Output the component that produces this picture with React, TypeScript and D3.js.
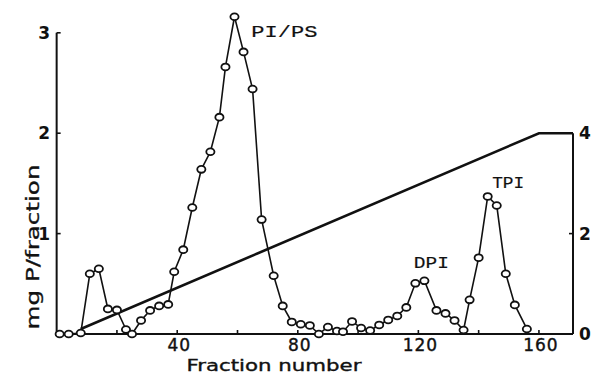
import React from 'react';
import * as d3 from 'd3';

const fractions = [1, 4, 8, 11, 14, 17, 20, 23, 25, 28, 31, 34, 37, 39, 42, 45, 48, 51, 54, 56, 59, 62, 65, 68, 72, 75, 78, 81, 84, 87, 90, 93, 95, 98, 101, 104, 107, 110, 113, 116, 119, 122, 126, 129, 132, 135, 137, 140, 143, 146, 149, 152, 156];
const mgP = [0, 0, 0.01, 0.6, 0.65, 0.25, 0.24, 0.045, 0, 0.135, 0.235, 0.28, 0.295, 0.62, 0.84, 1.26, 1.64, 1.815, 2.16, 2.66, 3.16, 2.81, 2.44, 1.14, 0.58, 0.28, 0.12, 0.097, 0.085, 0, 0.07, 0.03, 0.023, 0.125, 0.06, 0.035, 0.09, 0.14, 0.18, 0.265, 0.505, 0.53, 0.235, 0.205, 0.135, 0.04, 0.34, 0.76, 1.37, 1.28, 0.6, 0.29, 0.05];

const gradientFractions = [8, 160, 171.3];
const gradientValues = [0.1, 4, 4];

const leftTicks = [1, 2, 3];
const rightTicks = [0, 2, 4];
const xTicks = [20, 40, 60, 80, 100, 120, 140, 160];
const xTickLabels = [40, 80, 120, 160];

const peakLabels = [
  { text: 'PI/PS', f: 64.6, v: 2.96, len: 66 },
  { text: 'DPI', f: 118.5, v: 0.66, len: 35 },
  { text: 'TPI', f: 144.5, v: 1.45, len: 32 },
];

export default function App() {
  const W = 592, H = 375;
  const x = d3.scaleLinear().domain([0, 171.3]).range([56.65, 573]);
  const y = d3.scaleLinear().domain([0, 3]).range([334, 32.8]);
  const yR = d3.scaleLinear().domain([0, 4]).range([y(0), y(2)]);

  const line = d3.line<number>().x((_, i) => x(fractions[i])).y((d) => y(d));
  const gLine = d3.line<number>().x((_, i) => x(gradientFractions[i])).y((d) => yR(d));

  const ink = '#111';
  const font = '"DejaVu Sans", sans-serif';
  const mono = '"Liberation Mono", "DejaVu Sans Mono", monospace';

  return (
    <svg width={W} height={H} viewBox={`0 0 ${W} ${H}`} style={{ position: 'absolute', left: 0, top: 0, background: '#fff' }}>
      <rect width={W} height={H} fill="#fff" />
      {/* gradient line */}
      <path d={gLine(gradientValues) || ''} fill="none" stroke={ink} strokeWidth={2.6} />
      {/* axes */}
      <line x1={x(0)} x2={x(0)} y1={y(0)} y2={y(3)} stroke={ink} strokeWidth={2} />
      <line x1={x(0)} x2={x(171.3)} y1={y(0)} y2={y(0)} stroke={ink} strokeWidth={2} />
      <line x1={x(171.3)} x2={x(171.3)} y1={yR(0)} y2={yR(4)} stroke={ink} strokeWidth={2} />
      {leftTicks.map((t) => (
        <g key={'l' + t}>
          <line x1={x(0)} x2={x(0) + 4} y1={y(t)} y2={y(t)} stroke={ink} strokeWidth={1.6} />
          <text x={50} y={y(t) + 6} textAnchor="end" fontFamily={font} fontSize={17} fontWeight="bold" fill={ink}>{t}</text>
        </g>
      ))}
      {rightTicks.map((t) => (
        <g key={'r' + t}>
          <line x1={x(171.3) - 4} x2={x(171.3)} y1={yR(t)} y2={yR(t)} stroke={ink} strokeWidth={1.6} />
          <text x={579} y={yR(t) + 6} textAnchor="start" fontFamily={font} fontSize={17} fontWeight="bold" fill={ink}>{t}</text>
        </g>
      ))}
      {xTicks.map((t) => (
        <line key={'x' + t} x1={x(t)} x2={x(t)} y1={y(0)} y2={y(0) - 4} stroke={ink} strokeWidth={1.6} />
      ))}
      {xTickLabels.map((t) => (
        <text key={'xl' + t} x={x(t) + 2} y={351} textAnchor="middle" fontFamily={font} fontSize={17} fill={ink} stroke={ink} strokeWidth={0.4} letterSpacing={1}>{t}</text>
      ))}
      <text x={274} y={371} textAnchor="middle" fontFamily={font} fontSize={15.5} fill={ink} stroke={ink} strokeWidth={0.35} textLength={175} lengthAdjust="spacingAndGlyphs">Fraction number</text>
      <text transform={`translate(39,247) rotate(-90)`} textAnchor="middle" fontFamily={font} fontSize={17} fill={ink} stroke={ink} strokeWidth={0.3} textLength={165} lengthAdjust="spacingAndGlyphs">mg P/fraction</text>
      {/* data line */}
      <path d={line(mgP) || ''} fill="none" stroke={ink} strokeWidth={1.6} />
      {mgP.map((v, i) => (
        <ellipse key={'p' + i} cx={x(fractions[i])} cy={y(v)} rx={4.1} ry={3.4} fill="#fff" stroke={ink} strokeWidth={1.8} />
      ))}
      {peakLabels.map((p) => (
        <text key={p.text} x={x(p.f)} y={y(p.v)} fontFamily={mono} fontSize={17} fill={ink} stroke={ink} strokeWidth={0.2} textLength={p.len} lengthAdjust="spacingAndGlyphs">{p.text}</text>
      ))}
    </svg>
  );
}
